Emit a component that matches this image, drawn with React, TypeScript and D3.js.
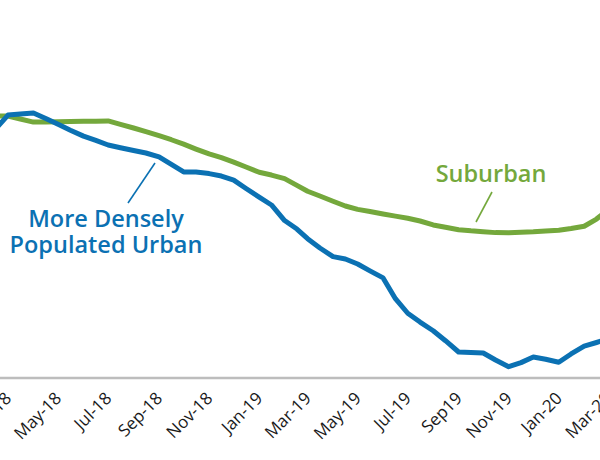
import React from 'react';
import * as d3 from 'd3';

const dates = [
  '2018-02-16',
  '2018-03-01', '2018-03-16', '2018-04-01', '2018-04-16', '2018-05-01', '2018-05-16',
  '2018-06-01', '2018-06-16', '2018-07-01', '2018-07-16', '2018-08-01', '2018-08-16',
  '2018-09-01', '2018-09-16', '2018-10-01', '2018-10-16', '2018-11-01', '2018-11-16',
  '2018-12-01', '2018-12-16', '2019-01-01', '2019-01-16', '2019-02-01', '2019-02-16',
  '2019-03-01', '2019-03-16', '2019-04-01', '2019-04-16', '2019-05-01', '2019-05-16',
  '2019-06-01', '2019-06-16', '2019-07-01', '2019-07-16', '2019-08-01', '2019-08-16',
  '2019-09-01', '2019-09-16', '2019-10-01', '2019-10-16', '2019-11-01', '2019-11-16',
  '2019-12-01', '2019-12-16', '2020-01-01', '2020-01-16', '2020-02-01', '2020-02-16',
  '2020-03-01', '2020-03-16',
];

const urban = [
  99.35, 100.08, 100.14, 100.2, 99.87, 99.51, 99.15, 98.79, 98.53, 98.25, 98.08,
  97.91, 97.76, 97.52, 97.06, 96.6, 96.6, 96.5, 96.35, 96.1, 95.59, 95.06, 94.58,
  93.63, 93.11, 92.52, 91.95, 91.42, 91.28, 90.97, 90.55, 90.12, 88.85, 87.96,
  87.42, 86.89, 86.28, 85.59, 85.56, 85.53, 85.1, 84.69, 84.94, 85.28, 85.15,
  84.96, 85.47, 85.95, 86.17, 86.38, 86.57,
];

const suburban = [
  100.02, 100.02, 99.84, 99.65, 99.65, 99.67, 99.69, 99.7, 99.7, 99.72, 99.51,
  99.29, 99.07, 98.82, 98.57, 98.3, 98.0, 97.7, 97.47, 97.2, 96.9, 96.58, 96.41,
  96.19, 95.78, 95.42, 95.13, 94.81, 94.52, 94.31, 94.18, 94.03, 93.9, 93.77,
  93.6, 93.36, 93.22, 93.07, 93.0, 92.95, 92.89, 92.88, 92.91, 92.94, 92.99,
  93.04, 93.14, 93.28, 93.72, 94.3, 94.76,
];

const tickDates = [
  '2018-03-01', '2018-05-01', '2018-07-01', '2018-09-01', '2018-11-01', '2019-01-01',
  '2019-03-01', '2019-05-01', '2019-07-01', '2019-09-01', '2019-11-01', '2020-01-01',
  '2020-03-01',
];
const tickLabels = [
  'Mar-18', 'May-18', 'Jul-18', 'Sep-18', 'Nov-18', 'Jan-19', 'Mar-19', 'May-19',
  'Jul-19', 'Sep19', 'Nov-19', 'Jan-20', 'Mar-20',
];

const W = 600;
const H = 460;
const BLUE = '#0b71b3';
const GREEN = '#74a83c';
const FONT = "'Open Sans', 'DejaVu Sans', sans-serif";

const parse = d3.timeParse('%Y-%m-%d');

export default function App() {
  const x = d3
    .scaleTime()
    .domain([parse('2018-03-01')!, parse('2020-03-01')!])
    .range([8, 608]);
  const y = d3.scaleLinear().domain([84, 101]).range([378, 100]);
  const axisY = 378;

  const line = d3
    .line<number>()
    .x((_, i) => x(parse(dates[i])!))
    .y((d) => y(d));

  return (
    <svg
      width={W}
      height={H}
      style={{ position: 'absolute', left: 0, top: 0, background: '#fff' }}
      fontFamily={FONT}
    >
      <line x1={0} x2={W} y1={axisY} y2={axisY} stroke="#bdbdbd" strokeWidth={2.5} />

      {tickDates.map((t, i) => {
        const tx = x(parse(t)!);
        return (
          <text
            key={t}
            transform={`translate(${tx - 4},${axisY + 13}) rotate(-45)`}
            textAnchor="end"
            dy="0.7em"
            fontSize={17}
            fill="#1a1a1a"
          >
            {tickLabels[i]}
          </text>
        );
      })}

      <path d={line(suburban) || ''} fill="none" stroke={GREEN} strokeWidth={5} strokeLinejoin="round" />
      <path d={line(urban) || ''} fill="none" stroke={BLUE} strokeWidth={5} strokeLinejoin="round" />

      {/* annotations */}
      <line x1={492} y1={192} x2={476} y2={222} stroke={GREEN} strokeWidth={1.6} />
      <text x={491} y={182} textAnchor="middle" fontSize={23.5} fontWeight={600} fill={GREEN}>
        Suburban
      </text>

      <line x1={155} y1={163} x2={128} y2={203} stroke={BLUE} strokeWidth={1.6} />
      <text textAnchor="middle" fontSize={23.5} fontWeight={600} fill={BLUE}>
        <tspan x={106} y={227}>More Densely</tspan>
        <tspan x={106} y={253}>Populated Urban</tspan>
      </text>
    </svg>
  );
}
